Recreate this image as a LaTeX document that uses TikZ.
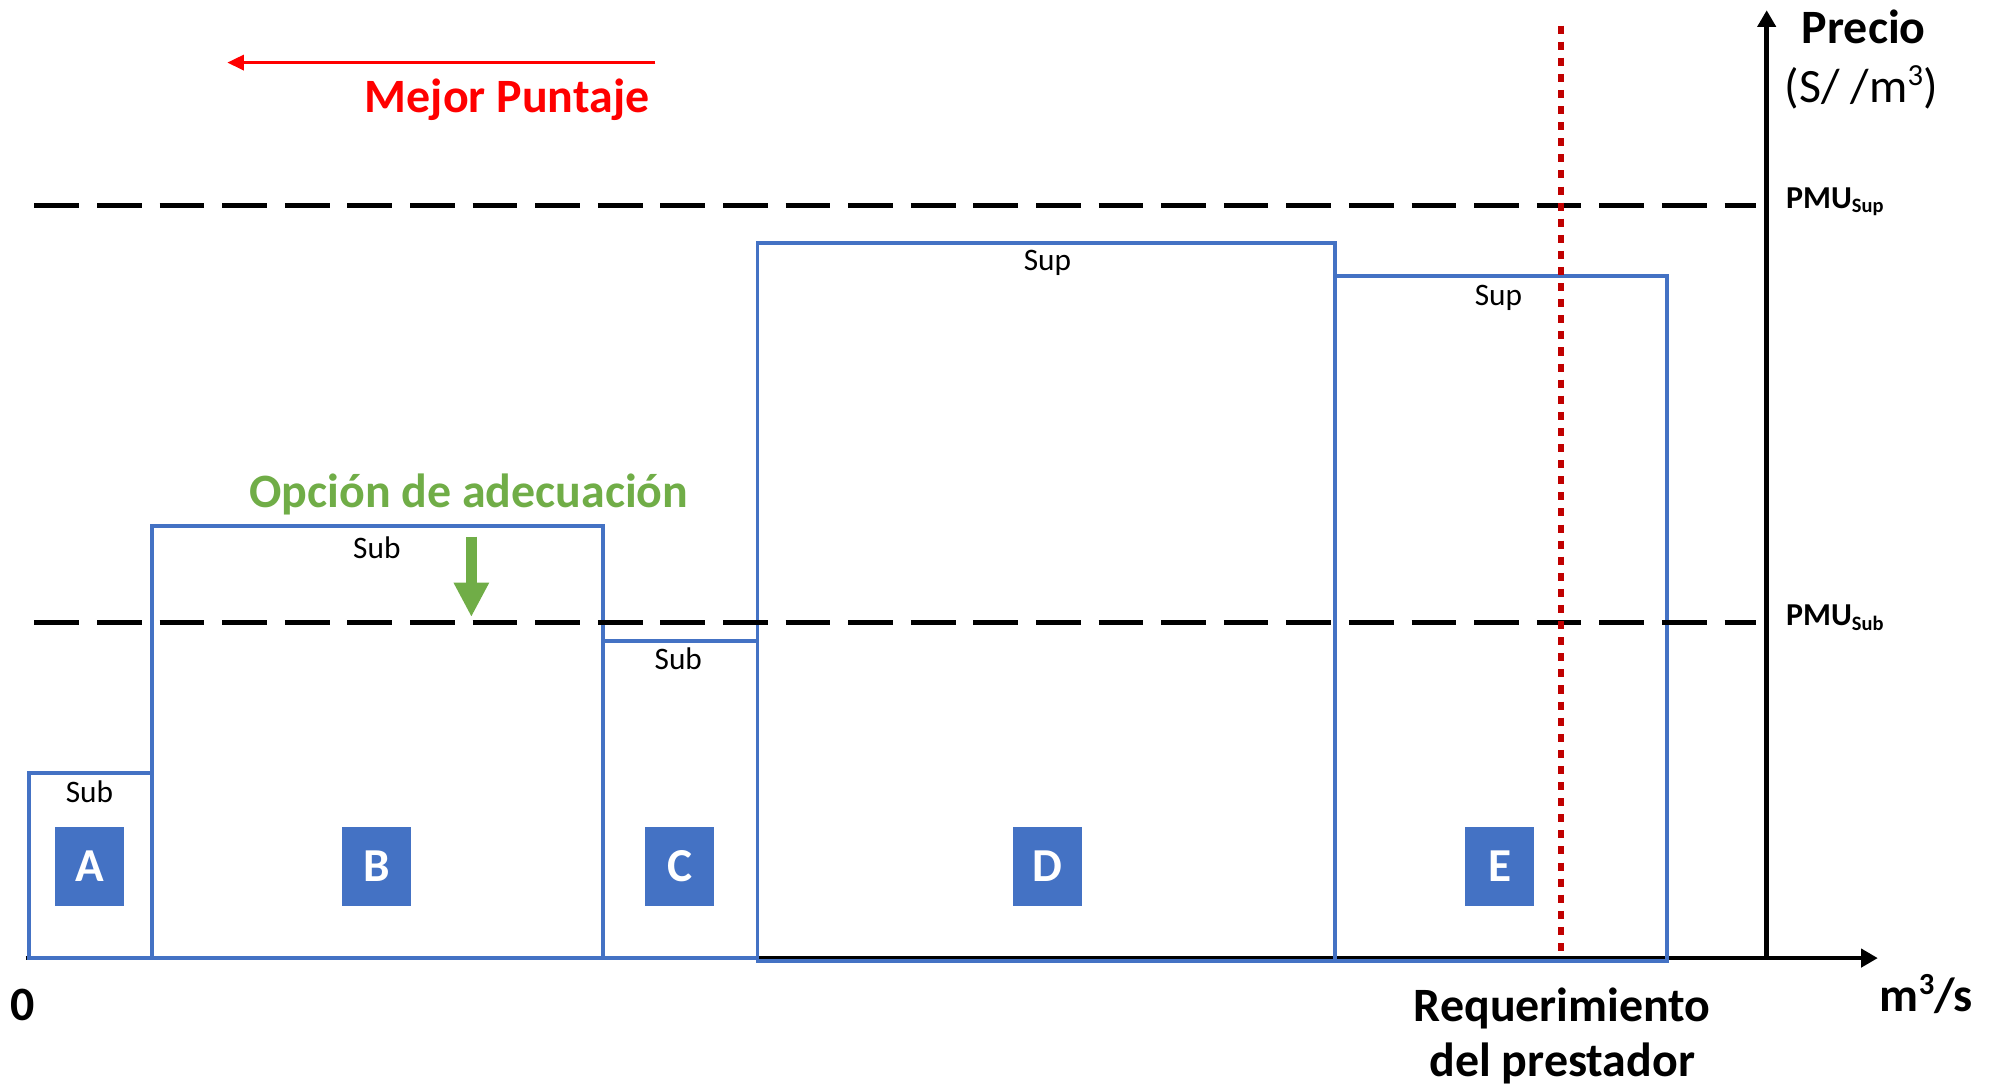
\documentclass[tikz,border=0pt]{standalone}
\usepackage{fontspec}
\setmainfont{Carlito}
\usetikzlibrary{arrows.meta}
\definecolor{boxblue}{HTML}{4472C4}
\definecolor{optgreen}{HTML}{70AD47}
\definecolor{reqred}{HTML}{C00000}
\definecolor{scorered}{HTML}{FF0000}
\newcommand{\cubed}{\raisebox{0.75ex}{\fontsize{24}{24}\selectfont 3}}
\tikzset{
  bigtxt/.style={font=\fontsize{37.5}{44}\selectfont\bfseries, inner sep=0pt, anchor=base},
  regtxt/.style={font=\fontsize{37.5}{44}\selectfont, inner sep=0pt, anchor=base},
  smalltxt/.style={font=\fontsize{24.5}{28}\selectfont, inner sep=0pt, anchor=base},
  pmutxt/.style={font=\fontsize{25}{28}\selectfont\bfseries, inner sep=0pt, anchor=base west},
  letterbox/.style={fill=boxblue, text=white, minimum width=54pt, minimum height=62pt, inner sep=0pt, font=\fontsize{37}{43}\selectfont\bfseries},
  bar/.style={draw=boxblue, line width=3pt},
  axisline/.style={line width=3.5pt, -{Triangle[width=14pt,length=13pt]}},
  pmuline/.style={line width=4pt, dash pattern=on 35pt off 14pt},
  reqline/.style={draw=reqred, line width=5pt, dash pattern=on 6.3pt off 6.3pt}
}
\begin{document}
\begin{tikzpicture}[x=1pt,y=-1pt]
\useasboundingbox (0,0) rectangle (1568,851);
% axes
\coordinate (o) at (20,750);
\coordinate (xend) at (1470,750);
\coordinate (ybase) at (1383,750);
\coordinate (yend) at (1383,8);
\draw[axisline] (o) -- (xend);
\draw[axisline] (ybase) -- (yend);
% boxes
\draw[bar] (23,605) rectangle (119,750);
\draw[bar] (119,412) rectangle (472,750);
\draw[bar] (472,502) rectangle (593,750);
\draw[bar] (593,190) rectangle (1045,752);
\draw[bar] (1045,216) rectangle (1305,752);
% box labels
\node[smalltxt] (subA) at (70,628) {Sub};
\node[smalltxt] (subB) at (295,437) {Sub};
\node[smalltxt] (subC) at (531,524) {Sub};
\node[smalltxt] (supD) at (820,212) {Sup};
\node[smalltxt] (supE) at (1173,239) {Sup};
\node[letterbox] (A) at (70,678) {A};
\node[letterbox] (B) at (295,678) {B};
\node[letterbox] (C) at (532,678) {C};
\node[letterbox] (D) at (820,678) {D};
\node[letterbox] (E) at (1174,678) {E};
% PMU lines
\coordinate (supL) at (27,161);
\coordinate (supR) at (1375,161);
\coordinate (subL) at (27,487);
\coordinate (subR) at (1375,487);
\draw[pmuline] (supL) -- (supR);
\draw[pmuline] (subL) -- (subR);
\node[pmutxt] (pmusup) at (1398,163) {PMU\raisebox{-0.3ex}{\fontsize{16}{18}\selectfont Sup}};
\node[pmutxt] (pmusub) at (1398,490) {PMU\raisebox{-0.3ex}{\fontsize{16}{18}\selectfont Sub}};
% requirement line
\coordinate (reqtop) at (1222,20);
\coordinate (reqbot) at (1222,750);
\draw[reqline] (reqtop) -- (reqbot);
% axis labels
\node[bigtxt] (precio) at (1459,34) {Precio};
\node[regtxt] (unit) at (1457,80) {(S/ /m\cubed)};
\node[bigtxt] (zero) at (18,799) {0};
\node[bigtxt] (flow) at (1508,792) {m\cubed/s};
\node[bigtxt] (req1) at (1223,800) {Requerimiento};
\node[bigtxt] (req2) at (1223,843) {del prestador};
% best score
\coordinate (mpR) at (513,49);
\coordinate (mpL) at (178,49);
\draw[draw=scorered, line width=2pt, -{Triangle[width=12pt,length=13pt]}] (mpR) -- (mpL);
\node[bigtxt, text=scorered] (mejor) at (397,88) {Mejor Puntaje};
% adecuacion
\node[bigtxt, text=optgreen] (opcion) at (367,397) {Opción de adecuación};
\coordinate (gtop) at (369,420);
\coordinate (gtip) at (369,483);
\draw[draw=optgreen, line width=9pt, -{Triangle[width=26pt,length=27pt]}] (gtop) -- (gtip);
\end{tikzpicture}
\end{document}
